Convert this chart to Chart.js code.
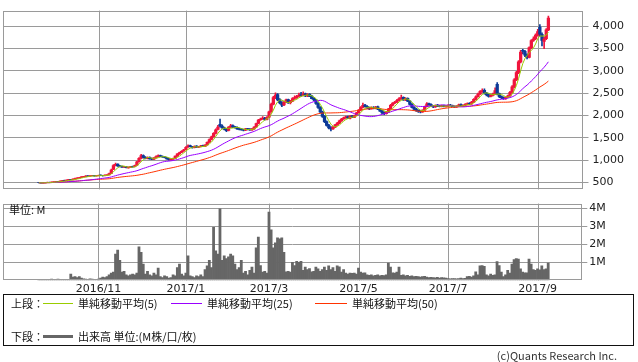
<!DOCTYPE html>
<html><head><meta charset="utf-8">
<script src="https://cdn.jsdelivr.net/npm/chart.js@4.4.1/dist/chart.umd.min.js"></script>
<style>
html,body{margin:0;padding:0;background:#fff;}
#wrap{position:relative;width:638px;height:362px;overflow:hidden;font-family:"Noto Sans CJK JP","DejaVu Sans",sans-serif;color:#111;}
canvas{position:absolute;left:0;}
#c1{top:0}
#c2{top:195px}
.t{position:absolute;font-size:11px;line-height:13px;white-space:nowrap;}
.ln{position:absolute;height:1px;}
#legend{position:absolute;left:3px;top:294px;width:631px;height:52px;border:1px solid #111;box-sizing:border-box;}
</style></head>
<body><div id="wrap">
<canvas id="c1" width="638" height="200"></canvas>
<canvas id="c2" width="638" height="100"></canvas>
<div class="t" style="left:9px;top:203px;">単位: M</div>
<div id="legend"></div>
<div class="t" style="left:11px;top:297px;">上段：</div>
<div class="ln" style="left:43px;width:30px;top:303px;background:#99cc00"></div>
<div class="t" style="left:78px;top:297px;">単純移動平均(5)</div>
<div class="ln" style="left:171px;width:31px;top:303px;background:#9900ff"></div>
<div class="t" style="left:207px;top:297px;">単純移動平均(25)</div>
<div class="ln" style="left:315px;width:32px;top:303px;background:#ff3300"></div>
<div class="t" style="left:352px;top:297px;">単純移動平均(50)</div>
<div class="t" style="left:11px;top:330px;">下段：</div>
<div class="ln" style="left:43px;width:30px;top:335px;height:3px;background:#666"></div>
<div class="t" style="left:78px;top:330px;">出来高 単位:(M株/口/枚)</div>
<div class="t" style="right:21px;top:349px;color:#333;">(c)Quants Research Inc.</div>
</div>
<script>
// ---- data ----
const holidays = ['2016-09-22','2016-10-10','2016-11-03','2016-11-23','2016-12-23','2017-01-02','2017-01-03','2017-01-09','2017-03-20','2017-05-03','2017-05-04','2017-05-05','2017-07-17','2017-08-11'];
const firstDay = '2016-09-20', lastDay = '2017-09-08';
const tickLabels = ['2016/11','2017/1','2017/3','2017/5','2017/7','2017/9'];
const priceTicks = [500,1000,1500,2000,2500,3000,3500,4000];
const volumeTicks = [1,2,3,4];

const open = [
500,495,488,492,500,505,498,510,515,522,
518,530,548,540,555,568,560,575,590,600,
610,628,630,648,640,650,658,645,650,665,
655,650,665,672,705,790,880,910,872,862,
842,852,828,840,860,852,885,965,1045,1105,
1065,1040,1065,1035,1020,1050,1078,1105,1088,1072,
1058,1032,1008,1020,1040,1092,1140,1172,1205,1240,
1295,1325,1305,1280,1315,1290,1300,1325,1310,1340,
1405,1462,1525,1600,1690,1800,1765,1725,1700,1665,
1738,1772,1745,1735,1705,1695,1685,1670,1705,1695,
1680,1700,1742,1822,1905,1925,1945,1910,1965,2085,
2255,2400,2470,2355,2285,2235,2300,2355,2285,2320,
2385,2400,2435,2470,2450,2485,2440,2475,2435,2385,
2350,2275,2185,2085,1985,1865,1785,1725,1700,1740,
1790,1830,1880,1925,1950,1975,1940,1995,1960,2000,
2060,2120,2180,2235,2205,2175,2150,2185,2160,2195,
2145,2105,2065,2040,2080,2150,2230,2280,2300,2340,
2380,2405,2350,2385,2325,2255,2185,2145,2115,2095,
2080,2120,2200,2265,2245,2215,2190,2235,2215,2200,
2225,2200,2210,2235,2225,2205,2190,2210,2245,2220,
2230,2250,2275,2260,2300,2360,2420,2480,2540,2565,
2505,2465,2430,2450,2480,2700,2485,2425,2405,2380,
2410,2440,2520,2640,2800,2960,3200,3460,3440,3360,
3300,3520,3680,3720,3800,3980,3820,3660,3720,3920];
const high = [
505,498,495,503,510,508,512,520,525,526,
535,550,552,560,572,572,580,598,610,618,
630,636,652,655,656,662,662,655,668,670,
660,670,678,710,800,900,935,920,885,870,
862,858,848,862,868,890,975,1060,1130,1120,
1080,1075,1075,1045,1058,1095,1120,1115,1095,1080,
1062,1040,1028,1045,1098,1150,1182,1212,1245,1305,
1345,1335,1312,1320,1325,1310,1330,1335,1350,1410,
1475,1540,1620,1700,1780,1920,1790,1740,1710,1750,
1800,1790,1760,1745,1720,1710,1695,1712,1715,1705,
1712,1750,1830,1915,1945,1975,1960,1975,2100,2280,
2430,2510,2490,2380,2310,2320,2370,2370,2340,2400,
2440,2450,2500,2520,2530,2500,2490,2490,2450,2400,
2360,2290,2200,2100,2000,1880,1800,1750,1760,1800,
1845,1895,1935,1965,1990,1985,2000,2005,2010,2070,
2135,2200,2280,2250,2220,2190,2195,2200,2205,2210,
2160,2120,2080,2095,2160,2250,2290,2320,2360,2400,
2460,2420,2400,2395,2335,2270,2200,2160,2130,2110,
2130,2210,2290,2280,2260,2230,2240,2250,2230,2235,
2235,2220,2245,2250,2235,2215,2220,2255,2260,2240,
2265,2285,2290,2320,2380,2440,2500,2560,2600,2600,
2520,2480,2470,2500,2620,2740,2500,2440,2420,2420,
2460,2540,2670,2830,2990,3230,3460,3480,3460,3380,
3540,3700,3760,3830,3930,4035,3850,3760,3950,4225];
const low = [
490,484,485,490,497,495,496,506,512,514,
515,528,536,538,550,556,557,572,585,596,
606,620,626,636,636,645,640,640,646,650,
644,646,660,668,700,785,870,860,850,835,
835,825,822,836,842,848,880,955,1030,1045,
1030,1030,1022,1010,1012,1045,1070,1080,1060,1050,
1022,1002,1000,1015,1035,1085,1130,1165,1195,1235,
1285,1295,1270,1275,1285,1280,1295,1302,1305,1335,
1395,1455,1515,1590,1680,1740,1710,1680,1640,1655,
1725,1730,1715,1690,1680,1670,1655,1660,1680,1665,
1668,1690,1735,1810,1890,1915,1895,1900,1955,2070,
2240,2380,2330,2260,2200,2220,2290,2270,2260,2310,
2360,2385,2420,2430,2440,2420,2420,2420,2370,2330,
2250,2160,2060,1960,1840,1760,1700,1655,1690,1730,
1780,1820,1870,1910,1935,1930,1925,1950,1950,1990,
2050,2110,2170,2190,2160,2130,2140,2150,2150,2130,
2090,2040,2020,2030,2070,2140,2215,2265,2290,2330,
2360,2340,2335,2310,2240,2170,2120,2090,2070,2060,
2070,2110,2190,2230,2200,2175,2180,2200,2190,2190,
2190,2185,2200,2210,2190,2180,2180,2200,2210,2205,
2220,2240,2245,2250,2290,2350,2410,2470,2520,2480,
2440,2410,2415,2440,2470,2460,2400,2380,2360,2360,
2400,2430,2500,2620,2780,2940,3180,3380,3320,3270,
3290,3500,3660,3700,3780,3780,3560,3500,3700,3900];
const close = [
495,488,492,500,505,498,510,515,520,518,
530,545,540,555,565,560,575,590,600,610,
625,630,645,640,650,655,645,650,660,655,
650,665,670,700,780,880,905,870,860,845,
850,830,840,855,850,880,960,1040,1100,1060,
1040,1060,1030,1020,1050,1080,1100,1090,1070,1060,
1030,1010,1020,1040,1090,1140,1170,1200,1230,1290,
1320,1300,1280,1310,1290,1300,1320,1310,1340,1400,
1460,1520,1600,1680,1740,1760,1720,1690,1660,1740,
1770,1740,1730,1700,1690,1680,1670,1700,1690,1680,
1700,1740,1820,1900,1920,1940,1910,1960,2080,2250,
2400,2460,2350,2280,2230,2300,2350,2280,2320,2380,
2400,2430,2460,2450,2480,2440,2470,2430,2380,2350,
2270,2180,2080,1980,1860,1780,1720,1700,1740,1790,
1830,1880,1920,1950,1970,1940,1990,1960,2000,2060,
2120,2180,2230,2200,2170,2150,2180,2160,2190,2140,
2100,2060,2040,2080,2150,2230,2280,2300,2340,2380,
2400,2350,2380,2320,2250,2180,2140,2110,2090,2080,
2120,2200,2260,2240,2210,2190,2230,2210,2200,2220,
2200,2210,2230,2220,2200,2190,2210,2240,2220,2230,
2250,2270,2260,2300,2360,2420,2480,2540,2560,2500,
2460,2430,2450,2480,2560,2480,2420,2400,2380,2410,
2440,2520,2640,2800,2960,3200,3420,3440,3350,3300,
3520,3680,3720,3800,3880,3820,3680,3720,3920,4180];
const volume = [
0.03,0.04,0.03,0.05,0.04,0.06,0.07,0.05,0.06,0.07,
0.06,0.05,0.04,0.05,0.04,0.34,0.18,0.2,0.15,0.2,
0.12,0.08,0.07,0.06,0.08,0.07,0.06,0.05,0.07,0.12,
0.18,0.15,0.2,0.3,0.4,0.45,1.45,1.67,1.1,0.45,
0.5,0.3,0.25,0.3,0.35,0.3,0.4,1.85,1.55,0.9,
0.35,0.5,0.3,0.25,0.4,0.3,0.68,0.2,0.15,0.25,
0.2,0.12,0.15,0.3,0.25,0.7,0.9,0.35,0.25,0.4,
1.36,0.25,0.2,0.15,0.25,0.2,0.3,0.2,0.6,0.8,
1.1,0.7,2.94,1.63,1.45,3.96,1.1,1.36,1.2,1.3,
1.45,1.35,0.9,0.6,0.7,1.1,0.4,0.5,0.3,0.55,
0.73,0.4,1.8,2.4,0.82,0.45,0.5,0.4,3.78,2.8,
1.8,2.08,2.35,2.3,2.35,1.55,0.47,0.5,0.45,1.0,
0.82,1.05,1.0,1.05,0.55,0.73,0.6,0.65,0.47,0.5,
0.73,0.64,0.5,0.6,0.73,0.55,0.8,0.6,0.7,0.5,
0.8,0.75,0.45,0.6,0.4,0.35,0.4,0.38,0.4,0.35,
0.68,0.45,0.4,0.42,0.3,0.28,0.3,0.25,0.28,0.3,
0.25,0.28,0.26,0.3,0.95,0.73,0.42,0.4,0.45,0.73,
0.28,0.3,0.25,0.28,0.22,0.25,0.2,0.22,0.2,0.18,
0.2,0.22,0.18,0.15,0.17,0.15,0.14,0.16,0.12,0.15,
0.13,0.12,0.1,0.08,0.1,0.09,0.08,0.1,0.12,0.1,
0.11,0.2,0.22,0.18,0.25,0.47,0.3,0.8,0.82,0.78,
0.3,0.25,0.35,0.28,0.3,1.04,0.82,0.45,0.2,0.3,
0.55,0.4,0.9,1.15,1.2,1.18,0.64,0.45,0.42,0.42,
1.18,0.9,0.6,0.55,0.64,0.58,0.8,0.6,0.64,0.95];

// ---- trading-day calendar ----
function tradingDays(a, b, hol){
  const out=[]; const h=new Set(hol);
  let d=new Date(a+'T00:00:00Z'); const e=new Date(b+'T00:00:00Z');
  while(d<=e){
    const wd=d.getUTCDay(); const s=d.toISOString().slice(0,10);
    if(wd!==0 && wd!==6 && !h.has(s)) out.push({y:d.getUTCFullYear(), m:d.getUTCMonth()+1, s});
    d=new Date(d.getTime()+86400000);
  }
  return out;
}
const dates = tradingDays(firstDay, lastDay, holidays);
const tickIdx = tickLabels.map(l=>{const [y,m]=l.split('/').map(Number); return dates.findIndex(d=>d.y===y&&d.m===m);});
const labelAt = {}; tickIdx.forEach((v,k)=>labelAt[v]=tickLabels[k]);

function sma(arr,n){return arr.map((_,i)=>{const s=Math.max(0,i-n+1);let t=0;for(let j=s;j<=i;j++)t+=arr[j];return t/(i-s+1);});}
const ma5=sma(close,5), ma25=sma(close,25), ma50=sma(close,50);

const idx = close.map((_,i)=>i);
const UP='#f0143c', DN='#0c3a98', GRID='#9a9a9a';
const candleColors = idx.map(i=>close[i]>=open[i]?UP:DN);
const XMIN=-16.8, XMAX=255;

Chart.defaults.font.family = '"DejaVu Sans", sans-serif';
Chart.defaults.font.size = 11;
Chart.defaults.color = '#222';

// frame + vertical month grid lines placed through the x scale
const frame = {id:'frame',
  beforeDatasetsDraw(ch){const a=ch.chartArea,c=ch.ctx,sx=ch.scales.x;c.save();c.strokeStyle=GRID;c.lineWidth=1;
    sx.ticks.forEach(t=>{const px=Math.round(sx.getPixelForValue(t.value))+0.5;c.beginPath();c.moveTo(px,a.top);c.lineTo(px,a.bottom);c.stroke();});
    c.restore();},
  afterDraw(ch){const a=ch.chartArea,c=ch.ctx;c.save();c.strokeStyle=GRID;c.lineWidth=1;
    const l=Math.round(a.left)+0.5,t=Math.round(a.top)+0.5,r=Math.round(a.right)-0.5,b=Math.round(a.bottom)-0.5;
    c.strokeRect(l,t,r-l,b-t);c.restore();}};

const xMonthScale = (showLabels)=>({type:'linear',offset:false,min:XMIN,max:XMAX,
  afterBuildTicks:s=>{s.ticks=tickIdx.map(v=>({value:v}));},
  ticks: showLabels ? {callback:v=>labelAt[v]||'',autoSkip:false,maxRotation:0,padding:2} : {display:false},
  grid:{display:false,drawTicks:false},border:{display:false}});

new Chart(document.getElementById('c1'), {
  type:'line',
  data:{datasets:[
    {type:'line',data:idx.map(i=>({x:i,y:ma5[i]})),borderColor:'#99cc00',borderWidth:1,pointRadius:0,order:1},
    {type:'line',data:idx.map(i=>({x:i,y:ma25[i]})),borderColor:'#9900ff',borderWidth:1,pointRadius:0,order:1},
    {type:'line',data:idx.map(i=>({x:i,y:ma50[i]})),borderColor:'#ff3300',borderWidth:1,pointRadius:0,order:1},
    {type:'bar',data:idx.map(i=>({x:i,y:[open[i],close[i]]})),backgroundColor:candleColors,barThickness:2.6,grouped:false,order:2},
    {type:'bar',data:idx.map(i=>({x:i,y:[low[i],high[i]]})),backgroundColor:candleColors,barThickness:1,grouped:false,order:3}
  ]},
  options:{responsive:false,animation:false,devicePixelRatio:1,
    layout:{padding:{left:3,top:0,right:0,bottom:0}},
    plugins:{legend:{display:false},tooltip:{enabled:false}},
    scales:{
      x:Object.assign(xMonthScale(false),{afterFit:s=>{s.height=9.5;}}),
      y:{position:'right',min:345,max:4350,
         afterBuildTicks:s=>{s.ticks=priceTicks.map(v=>({value:v}));},
         ticks:{callback:v=>Number(v).toLocaleString('en-US'),padding:4},
         grid:{color:GRID,tickLength:6},border:{display:false},
         afterFit:s=>{s.width=55.5;}}
    }},
  plugins:[frame]
});

new Chart(document.getElementById('c2'), {
  type:'line',
  data:{datasets:[
    {type:'bar',data:idx.map(i=>({x:i,y:volume[i]})),backgroundColor:'#666666',barPercentage:1,categoryPercentage:1,grouped:false}
  ]},
  options:{responsive:false,animation:false,devicePixelRatio:1,
    layout:{padding:{left:3,top:6,right:0,bottom:0}},
    plugins:{legend:{display:false},tooltip:{enabled:false}},
    scales:{
      x:Object.assign(xMonthScale(true),{afterFit:s=>{s.height=14.7;}}),
      y:{position:'right',min:0,max:4.25,
         afterBuildTicks:s=>{s.ticks=volumeTicks.map(v=>({value:v}));},
         ticks:{callback:v=>v+'M',padding:2},
         grid:{color:GRID,tickLength:5},border:{display:false},
         afterFit:s=>{s.width=55.7;}}
    }},
  plugins:[frame]
});
</script>
</body></html>
